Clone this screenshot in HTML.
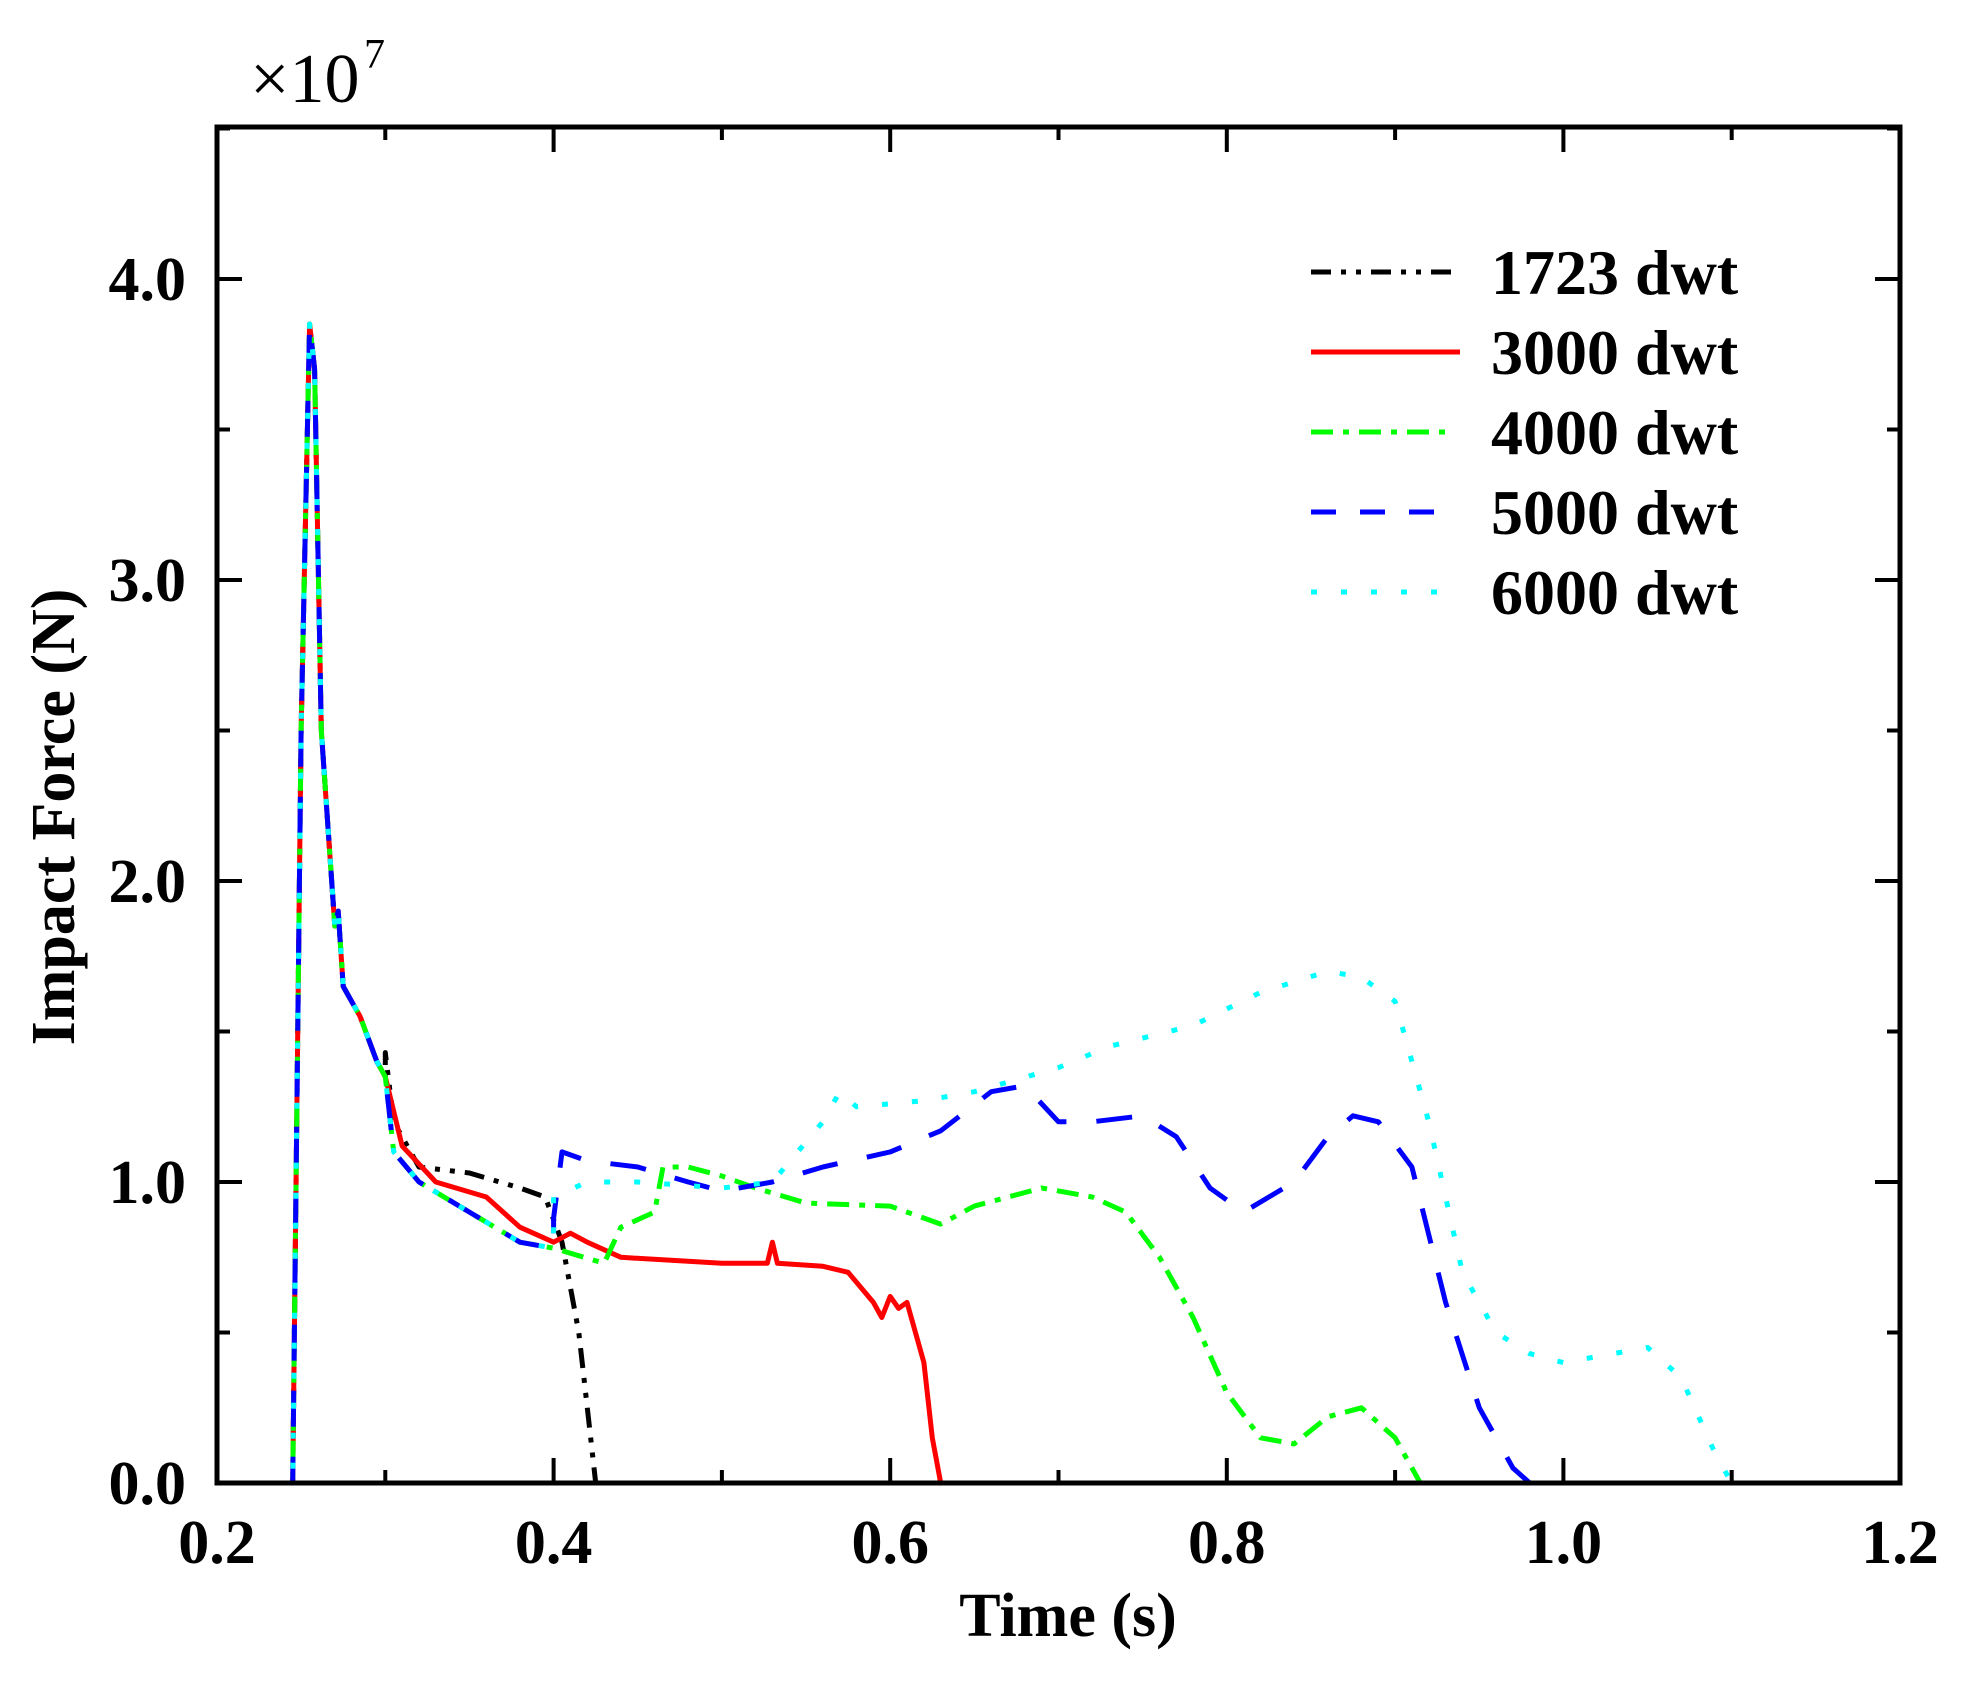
<!DOCTYPE html>
<html><head><meta charset="utf-8"><style>
html,body{margin:0;padding:0;background:#fff;}
svg{display:block;}
text{font-family:"Liberation Serif",serif;font-weight:bold;fill:#000;}
</style></head><body>
<svg id="s" width="1980" height="1686" viewBox="0 0 1980 1686" xmlns="http://www.w3.org/2000/svg">
<rect width="1980" height="1686" fill="#fff"/>
<g id="series" fill="none" stroke-width="5" stroke-linejoin="round"></g>
<rect x="217" y="127" width="1683" height="1356" fill="none" stroke="#000" stroke-width="5"/>
<g id="ticks" stroke="#000" stroke-width="4"></g>
<g font-size="62" text-anchor="end">
<text x="186" y="1504">0.0</text>
<text x="186" y="1203">1.0</text>
<text x="186" y="902">2.0</text>
<text x="186" y="601">3.0</text>
<text x="186" y="300">4.0</text>
</g>
<g font-size="62" text-anchor="middle">
<text x="217" y="1563">0.2</text>
<text x="553.6" y="1563">0.4</text>
<text x="890.2" y="1563">0.6</text>
<text x="1226.8" y="1563">0.8</text>
<text x="1563.4" y="1563">1.0</text>
<text x="1900" y="1563">1.2</text>
</g>
<text x="1068" y="1636" font-size="62" text-anchor="middle">Time (s)</text>
<text transform="translate(74,817) rotate(-90)" font-size="62" text-anchor="middle">Impact Force (N)</text>
<text x="250" y="102" font-size="70" style="font-weight:normal">×10</text>
<text x="364" y="68" font-size="42" style="font-weight:normal">7</text>
<g font-size="64">
<text x="1491" y="294">1723 dwt</text>
<text x="1491" y="374">3000 dwt</text>
<text x="1491" y="454">4000 dwt</text>
<text x="1491" y="534">5000 dwt</text>
<text x="1491" y="614">6000 dwt</text>
</g>
<g stroke-width="5" fill="none">
<line x1="1311" y1="272" x2="1458" y2="272" stroke="#000" stroke-dasharray="20 10 5 10 5 10"/>
<line x1="1311" y1="352" x2="1460" y2="352" stroke="#f00"/>
<line x1="1311" y1="432" x2="1450" y2="432" stroke="#0f0" stroke-dasharray="22 10 6 10"/>
<line x1="1311" y1="512" x2="1440" y2="512" stroke="#00f" stroke-dasharray="25 24"/>
<line x1="1311" y1="592" x2="1440" y2="592" stroke="#0ff" stroke-dasharray="6 24"/>
</g>
</svg>
<script>
const X=t=>217+(t-0.2)*1683, Y=f=>1483-f*301;
const common=[[0.2,0],[0.245,0],[0.25,2.5],[0.255,3.85],[0.258,3.7],[0.262,2.5],[0.27,1.85],[0.272,1.9],[0.275,1.65],[0.285,1.55],[0.295,1.4],[0.30,1.35]];
const tail=[[0.305,1.1],[0.32,1.0],[0.35,0.9],[0.38,0.8],[0.40,0.78]];
const S=[
["#000","20 10 5 10 5 10",[...common,[0.30,1.43],[0.305,1.2],[0.32,1.05],[0.35,1.03],[0.38,0.98],[0.395,0.95],[0.405,0.8],[0.415,0.5],[0.42,0.25],[0.425,0],[1.2,0]]],
["#f00","",[...common,[0.31,1.12],[0.33,1.0],[0.36,0.95],[0.38,0.85],[0.40,0.8],[0.41,0.83],[0.42,0.8],[0.44,0.75],[0.50,0.73],[0.527,0.73],[0.53,0.8],[0.533,0.73],[0.56,0.72],[0.575,0.7],[0.59,0.6],[0.595,0.55],[0.60,0.62],[0.605,0.58],[0.61,0.6],[0.62,0.4],[0.625,0.15],[0.63,0],[1.2,0]]],
["#0f0","22 10 6 10",[...common,...tail,[0.43,0.73],[0.44,0.85],[0.46,0.9],[0.465,1.05],[0.48,1.05],[0.50,1.02],[0.52,0.98],[0.55,0.93],[0.60,0.92],[0.63,0.86],[0.65,0.92],[0.69,0.98],[0.72,0.95],[0.74,0.9],[0.76,0.75],[0.78,0.55],[0.80,0.3],[0.82,0.15],[0.84,0.13],[0.86,0.22],[0.88,0.25],[0.90,0.15],[0.915,0],[1.2,0]]],
["#00f","36 30",[...common,...tail,[0.40,0.88],[0.405,1.1],[0.42,1.07],[0.45,1.05],[0.48,1.0],[0.50,0.97],[0.53,1.0],[0.56,1.05],[0.60,1.1],[0.63,1.17],[0.66,1.3],[0.68,1.32],[0.70,1.2],[0.72,1.2],[0.75,1.22],[0.77,1.15],[0.79,0.98],[0.81,0.9],[0.84,1.0],[0.86,1.15],[0.875,1.22],[0.89,1.2],[0.91,1.05],[0.93,0.6],[0.95,0.25],[0.97,0.05],[0.98,0],[1.2,0]]],
["#0ff","6 24",[...common,...tail,[0.40,0.95],[0.42,1.0],[0.45,1.0],[0.50,0.98],[0.53,1.0],[0.56,1.2],[0.57,1.3],[0.58,1.25],[0.62,1.27],[0.65,1.3],[0.70,1.38],[0.73,1.45],[0.78,1.52],[0.82,1.63],[0.86,1.7],[0.88,1.68],[0.90,1.6],[0.92,1.2],[0.94,0.7],[0.96,0.5],[0.98,0.43],[1.0,0.4],[1.02,0.42],[1.05,0.45],[1.07,0.35],[1.09,0.1],[1.10,0],[1.2,0]]]
];
const NS="http://www.w3.org/2000/svg";
const g=document.getElementById("series");
for(const [c,d,pts] of S){const p=document.createElementNS(NS,"polyline");
p.setAttribute("points",pts.map(q=>X(q[0]).toFixed(1)+","+Y(q[1]).toFixed(1)).join(" "));
p.setAttribute("stroke",c);if(d)p.setAttribute("stroke-dasharray",d);g.appendChild(p);}
const tg=document.getElementById("ticks");
function L(a,b,c,d){const l=document.createElementNS(NS,"line");l.setAttribute("x1",a);l.setAttribute("y1",b);l.setAttribute("x2",c);l.setAttribute("y2",d);tg.appendChild(l);}
for(let i=0;i<=10;i++){const x=217+i*168.3,len=i%2?13:25;L(x,1483,x,1483-len);L(x,127,x,127+len);}
for(let i=0;i<=9;i++){const y=1483-i*150.5,len=i%2?13:25;if(y<127)continue;L(217,y,217+len,y);L(1900,y,1900-len,y);}
</script>
</body></html>
